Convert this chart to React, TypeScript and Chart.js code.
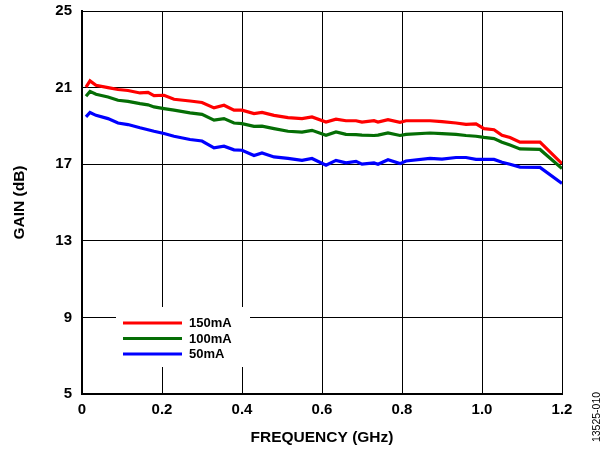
import React, { useEffect, useRef } from "react";
import { Chart, registerables } from "chart.js";

Chart.register(...registerables);

const freqGHz = [0.01, 0.02, 0.035, 0.065, 0.09, 0.115, 0.145, 0.165, 0.18, 0.205, 0.23, 0.27, 0.3, 0.33, 0.355, 0.38, 0.4, 0.43, 0.45, 0.48, 0.515, 0.55, 0.575, 0.61, 0.635, 0.66, 0.685, 0.7, 0.73, 0.74, 0.765, 0.795, 0.81, 0.87, 0.9, 0.935, 0.96, 0.985, 1.005, 1.03, 1.05, 1.07, 1.095, 1.145, 1.2];

const gain150mA = [21.03, 21.35, 21.12, 21.0, 20.9, 20.85, 20.72, 20.75, 20.58, 20.6, 20.39, 20.3, 20.22, 19.94, 20.08, 19.82, 19.82, 19.64, 19.7, 19.55, 19.43, 19.38, 19.47, 19.2, 19.35, 19.27, 19.27, 19.2, 19.27, 19.2, 19.33, 19.19, 19.27, 19.27, 19.22, 19.15, 19.08, 19.1, 18.86, 18.8, 18.51, 18.39, 18.15, 18.15, 17.03];

const gain100mA = [20.55, 20.8, 20.65, 20.51, 20.34, 20.28, 20.16, 20.1, 19.99, 19.9, 19.82, 19.68, 19.6, 19.3, 19.38, 19.15, 19.12, 18.98, 18.99, 18.86, 18.72, 18.68, 18.77, 18.51, 18.68, 18.56, 18.54, 18.52, 18.5, 18.52, 18.63, 18.5, 18.56, 18.63, 18.6, 18.56, 18.5, 18.46, 18.4, 18.34, 18.15, 18.0, 17.8, 17.77, 16.77];

const gain50mA = [19.47, 19.7, 19.55, 19.38, 19.15, 19.07, 18.9, 18.8, 18.72, 18.6, 18.46, 18.29, 18.21, 17.85, 17.94, 17.75, 17.73, 17.45, 17.59, 17.38, 17.3, 17.2, 17.3, 16.95, 17.2, 17.07, 17.15, 17.0, 17.07, 17.0, 17.23, 17.03, 17.17, 17.3, 17.27, 17.35, 17.35, 17.25, 17.25, 17.25, 17.1, 17.0, 16.85, 16.83, 16.0];

const seriesLabels = ["150mA", "100mA", "50mA"];
const seriesColors = ["#ff0000", "#056e05", "#0000ff"];
const xTicks = [0, 0.2, 0.4, 0.6, 0.8, 1.0, 1.2];
const yTicks = [5, 9, 13, 17, 21, 25];
const figureId = "13525-010";

const FONT = "'Liberation Sans', Arial, sans-serif";

export default function App() {
  const ref = useRef<HTMLCanvasElement | null>(null);

  useEffect(() => {
    document.body.style.margin = "0";
    const canvas = ref.current;
    if (!canvas) return;
    const allSeries = [gain150mA, gain100mA, gain50mA];

    const legendPlugin = {
      id: "customLegend",
      afterDraw(chart: any) {
        const { ctx, chartArea } = chart;
        ctx.save();
        const bx = chartArea.left + 34;
        const by = chartArea.top + 296;
        ctx.fillStyle = "#fff";
        ctx.fillRect(bx, by, 134, 60);
        ctx.font = `bold 13px ${FONT}`;
        ctx.textBaseline = "middle";
        seriesLabels.forEach((lab, i) => {
          const y = by + 16 + i * 15.5;
          ctx.strokeStyle = seriesColors[i];
          ctx.lineWidth = 3;
          ctx.beginPath();
          ctx.moveTo(bx + 7, y);
          ctx.lineTo(bx + 66, y);
          ctx.stroke();
          ctx.fillStyle = "#000";
          ctx.fillText(lab, bx + 73, y + 0.5);
        });
        // figure id
        ctx.translate(597, 417);
        ctx.rotate(-Math.PI / 2);
        ctx.font = `10.5px ${FONT}`;
        ctx.textAlign = "center";
        ctx.fillStyle = "#000";
        ctx.fillText(figureId, 0, 0);
        ctx.restore();
      },
    };

    const chart = new Chart(canvas, {
      type: "line",
      data: {
        datasets: allSeries.map((vals, i) => ({
          label: seriesLabels[i],
          data: freqGHz.map((f, j) => ({ x: f, y: vals[j] })),
          borderColor: seriesColors[i],
          borderWidth: 3.2,
          pointRadius: 0,
          tension: 0,
          fill: false,
        })),
      },
      options: {
        animation: false,
        responsive: false,
        devicePixelRatio: 1,
        layout: { padding: { left: 0, right: 43, top: 11, bottom: 0 } },
        plugins: { legend: { display: false }, tooltip: { enabled: false } },
        scales: {
          x: {
            type: "linear",
            min: 0,
            max: 1.2,
            afterBuildTicks: (s: any) => {
              s.ticks = xTicks.map((v) => ({ value: v }));
            },
            afterFit: (s: any) => {
              s.height = 55;
              s.paddingLeft = 0;
              s.paddingRight = 0;
            },
            ticks: {
              font: { family: FONT, size: 15, weight: "bold" },
              color: "#000",
              padding: 7,
              maxRotation: 0,
              callback: (v: any) => (v === 0 ? "0" : Number(v).toFixed(1)),
            },
            grid: { color: "#000", lineWidth: 1, drawTicks: false },
            border: { color: "#000", width: 2 },
            title: {
              display: true,
              text: "FREQUENCY (GHz)",
              font: { family: FONT, size: 15.5, weight: "bold" },
              color: "#000",
              padding: { top: 0, bottom: 2 },
            },
          },
          y: {
            type: "linear",
            min: 5,
            max: 25,
            afterBuildTicks: (s: any) => {
              s.ticks = yTicks.map((v) => ({ value: v }));
            },
            afterFit: (s: any) => {
              s.width = 82;
              s.paddingTop = 0;
              s.paddingBottom = 0;
            },
            ticks: {
              font: { family: FONT, size: 15, weight: "bold" },
              color: "#000",
              padding: 10,
            },
            grid: { color: "#000", lineWidth: 1, drawTicks: false },
            border: { color: "#000", width: 2 },
            title: {
              display: true,
              text: "GAIN (dB)",
              font: { family: FONT, size: 15.5, weight: "bold" },
              color: "#000",
              padding: { top: 10, bottom: 0 },
            },
          },
        },
      },
      plugins: [legendPlugin],
    });
    return () => chart.destroy();
  }, []);

  return (
    <div style={{ position: "absolute", left: 0, top: 0, width: 605, height: 449, background: "#fff" }}>
      <canvas ref={ref} width={605} height={449} style={{ width: 605, height: 449 }} />
    </div>
  );
}
